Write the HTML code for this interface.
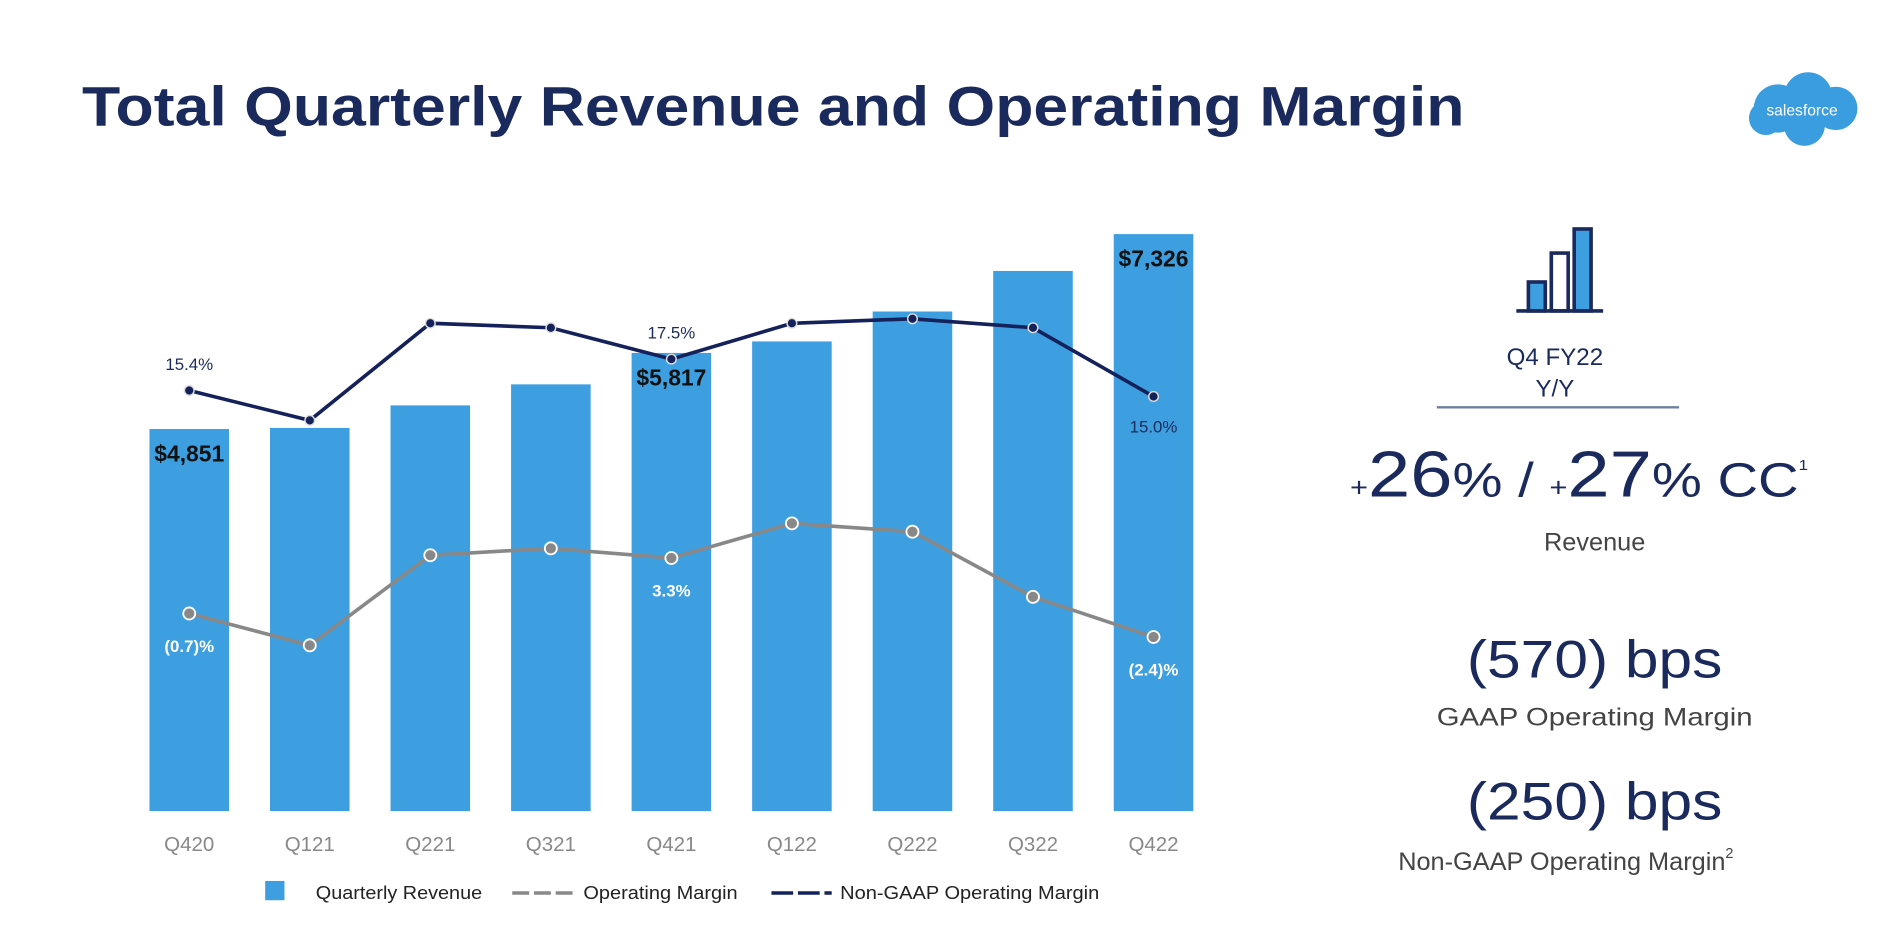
<!DOCTYPE html>
<html><head><meta charset="utf-8"><style>
html,body{margin:0;padding:0;background:#fff;width:1890px;height:940px;overflow:hidden}
svg{display:block;font-family:"Liberation Sans",sans-serif}
</style></head><body>
<svg id="chart" width="1890" height="940" viewBox="0 0 1568 780" preserveAspectRatio="none" xmlns="http://www.w3.org/2000/svg">
<text x="68" y="104" font-size="46" font-weight="bold" fill="#1b2a5c" textLength="1147" lengthAdjust="spacingAndGlyphs">Total Quarterly Revenue and Operating Margin</text>
<g>
<circle cx="1475" cy="90" r="20" fill="#3a9de0"/><circle cx="1500" cy="80" r="20" fill="#3a9de0"/><circle cx="1523" cy="90" r="18" fill="#3a9de0"/><circle cx="1497" cy="104" r="17" fill="#3a9de0"/><circle cx="1465" cy="98" r="14" fill="#3a9de0"/>
<text x="1495" y="96" font-size="13" fill="#fff" text-anchor="middle">salesforce</text>
</g>
<g id="bars"></g><g id="lines"></g><g id="labels"></g>
<g font-size="15" fill="#222">
<rect x="220" y="731" width="16" height="16" fill="#3d9fe0"/>
<text x="262" y="746" textLength="138" lengthAdjust="spacingAndGlyphs">Quarterly Revenue</text>
<line x1="425" y1="741" x2="475" y2="741" stroke="#888" stroke-width="3" stroke-dasharray="14,4"/>
<text x="484" y="746" textLength="128" lengthAdjust="spacingAndGlyphs">Operating Margin</text>
<line x1="640" y1="741" x2="690" y2="741" stroke="#14215a" stroke-width="3" stroke-dasharray="18,4"/>
<text x="697" y="746" textLength="215" lengthAdjust="spacingAndGlyphs">Non-GAAP Operating Margin</text>
</g>
<g stroke="#1b2a5c" stroke-width="3">
<rect x="1268" y="234" width="14" height="24" fill="#3d9fe0"/><rect x="1287" y="210" width="14" height="48" fill="#fff"/><rect x="1306" y="190" width="14" height="68" fill="#3d9fe0"/>
<line x1="1258" y1="258" x2="1330" y2="258"/>
</g>
<g text-anchor="middle" fill="#1b2a5c">
<text x="1290" y="303" font-size="20">Q4 FY22</text>
<text x="1290" y="329" font-size="20">Y/Y</text>
<line x1="1192" y1="338" x2="1393" y2="338" stroke="#6d7fa0" stroke-width="2"/>
<text x="1120" y="412" text-anchor="start" textLength="380" lengthAdjust="spacingAndGlyphs"><tspan font-size="22">+</tspan><tspan font-size="54">26</tspan><tspan font-size="40">% / </tspan><tspan font-size="22">+</tspan><tspan font-size="54">27</tspan><tspan font-size="40">% CC</tspan><tspan font-size="12" dy="-22">1</tspan></text>
<text x="1323" y="457" font-size="21" fill="#444">Revenue</text>
<text x="1323" y="562" font-size="44" textLength="212" lengthAdjust="spacingAndGlyphs">(570) bps</text>
<text x="1323" y="602" font-size="21" fill="#444" textLength="262" lengthAdjust="spacingAndGlyphs">GAAP Operating Margin</text>
<text x="1323" y="680" font-size="44" textLength="212" lengthAdjust="spacingAndGlyphs">(250) bps</text>
<text x="1160" y="722" font-size="21" fill="#444" text-anchor="start">Non-GAAP Operating Margin<tspan font-size="12" dy="-10">2</tspan></text>
</g>
</svg>
<script>
const categories=["Q420","Q121","Q221","Q321","Q421","Q122","Q222","Q322","Q422"];
const revenue=[4851,4865,5151,5418,5817,5963,6343,6858,7326];
const gaapMargin=[-0.7,-3.0,3.5,4.0,3.3,5.8,5.2,0.5,-2.4];
const nonGaapMargin=[15.4,13.4,19.9,19.6,17.5,19.9,20.2,19.6,15.0];
const revLabels=[[0,"$4,851"],[4,"$5,817"],[8,"$7,326"]];
const ngLabels=[[0,"15.4%"],[4,"17.5%"],[8,"15.0%"]];
const gLabels=[[0,"(0.7)%"],[4,"3.3%"],[8,"(2.4)%"]];
const NS="http://www.w3.org/2000/svg";
const xC=i=>157+i*100;
const yRev=v=>673-v*0.06535;
const yNG=m=>515-12.4*m;
const yG=m=>501-11.5*m;
function mk(t,a,p){const e=document.createElementNS(NS,t);for(const k in a)e.setAttribute(k,a[k]);p.appendChild(e);return e;}
const bars=document.getElementById('bars'),lines=document.getElementById('lines'),labels=document.getElementById('labels');
categories.forEach((c,i)=>{
 const r=mk('rect',{x:xC(i)-33,y:yRev(revenue[i]),width:66,height:673-yRev(revenue[i]),fill:'#3d9fe0'},bars);
 
 
 const t=mk('text',{x:xC(i),y:706,'font-size':17,fill:'#888','text-anchor':'middle'},labels);t.textContent=c;
 
 
});
const ng=mk('polyline',{points:nonGaapMargin.map((m,i)=>xC(i)+','+yNG(m)).join(' '),fill:'none',stroke:'#14215a','stroke-width':3},lines);


const g=mk('polyline',{points:gaapMargin.map((m,i)=>xC(i)+','+yG(m)).join(' '),fill:'none',stroke:'#888','stroke-width':3},lines);


gaapMargin.forEach((m,i)=>{const c=mk('circle',{cx:xC(i),cy:yG(m),r:5,fill:'#888',stroke:'#fff','stroke-width':1.5},lines);
 
 });
nonGaapMargin.forEach((m,i)=>{const c=mk('circle',{cx:xC(i),cy:yNG(m),r:4,fill:'#14215a',stroke:'#ddd','stroke-width':1.2},lines);
 
 });
revLabels.forEach(([i,s])=>{const t=mk('text',{x:xC(i),y:yRev(revenue[i])+27,'font-size':19,'font-weight':'bold',fill:'#111','text-anchor':'middle'},labels);t.textContent=s;
 
 });
ngLabels.forEach(([i,s])=>{const dy=i===8?30:-17;const t=mk('text',{x:xC(i),y:yNG(nonGaapMargin[i])+dy,'font-size':14,fill:'#1b2a5c','text-anchor':'middle'},labels);t.textContent=s;
 
 });
gLabels.forEach(([i,s])=>{const t=mk('text',{x:xC(i),y:yG(gaapMargin[i])+32,'font-size':14,'font-weight':'bold',fill:'#fff','text-anchor':'middle'},labels);t.textContent=s;
 
 });
</script>
</body></html>
